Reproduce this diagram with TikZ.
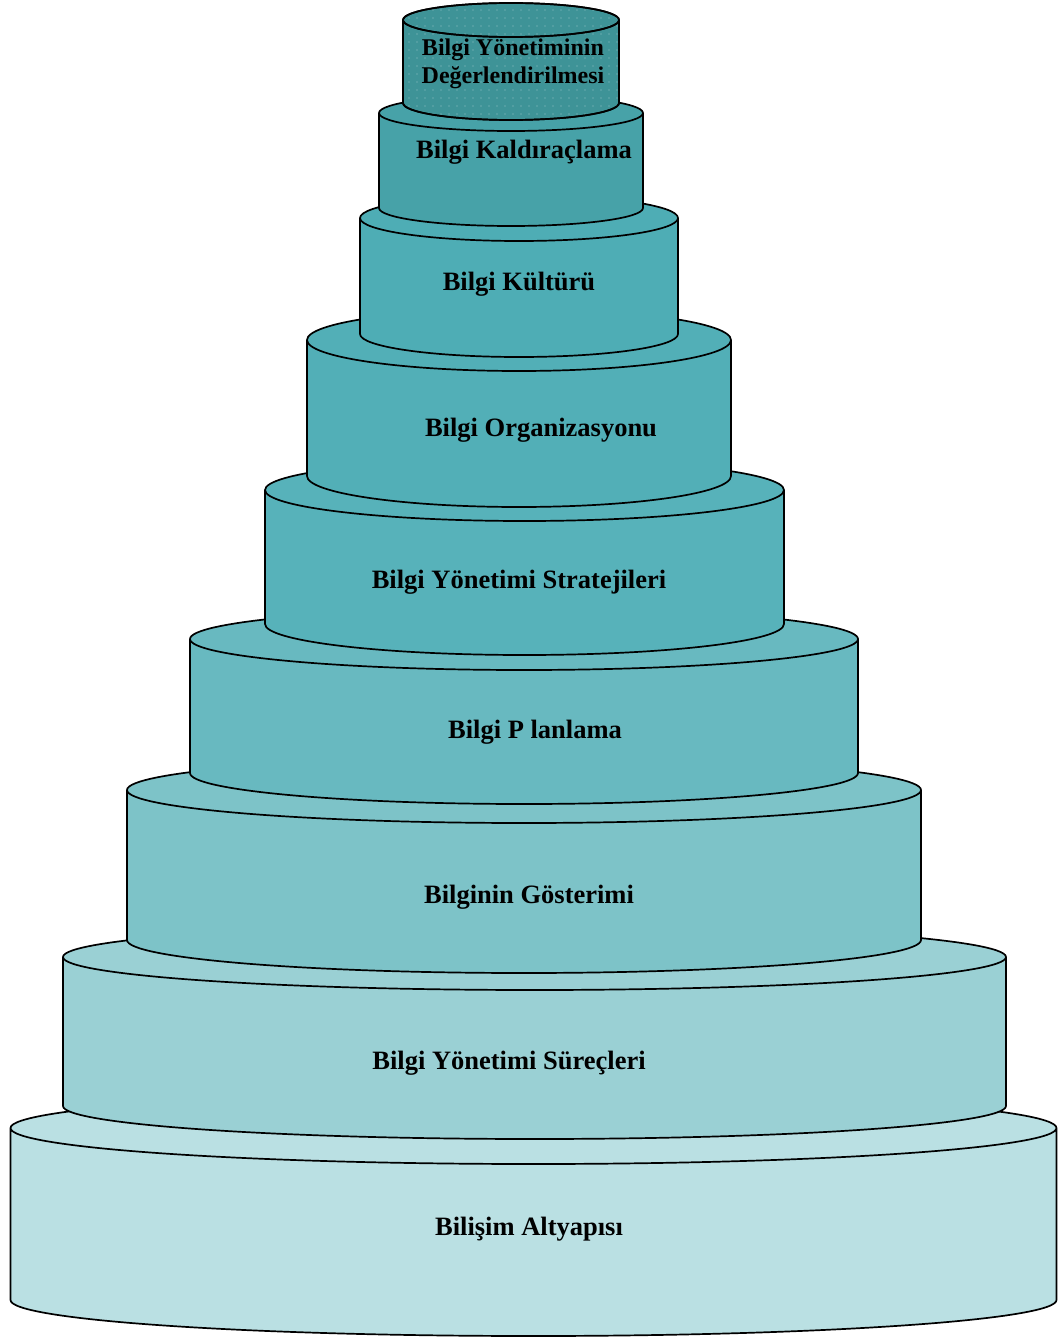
\documentclass[tikz,border=0pt]{standalone}
\usepackage{fontspec}
\setmainfont{Liberation Serif}
\definecolor{tierA}{HTML}{3E9397}
\definecolor{tierB}{HTML}{47A2A8}
\definecolor{tierC}{HTML}{4EADB5}
\definecolor{tierD}{HTML}{52AFB7}
\definecolor{tierE}{HTML}{57B2BA}
\definecolor{tierF}{HTML}{68B9C0}
\definecolor{tierG}{HTML}{7DC3C8}
\definecolor{tierH}{HTML}{9AD0D4}
\definecolor{tierI}{HTML}{BAE0E3}
% \tier{colour}{cx}{rx}{top y}{bottom y}{ry}  (y values measured downward)
\newcommand{\tier}[6]{%
  \fill[#1] (#2-#3,-#4) -- (#2-#3,-#5)
    arc[start angle=180,end angle=360,x radius=#3,y radius=#6]
    -- (#2+#3,-#4)
    arc[start angle=0,end angle=180,x radius=#3,y radius=#6] -- cycle;
  \draw[outline] (#2-#3,-#4) -- (#2-#3,-#5)
    arc[start angle=180,end angle=360,x radius=#3,y radius=#6]
    -- (#2+#3,-#4)
    arc[start angle=0,end angle=180,x radius=#3,y radius=#6]
    arc[start angle=180,end angle=360,x radius=#3,y radius=#6];
}
\begin{document}
\begin{tikzpicture}[x=1pt,y=1pt,
  outline/.style={draw=black,line width=1.7pt,line join=round},
  label/.style={font=\fontsize{26.5}{30}\selectfont\bfseries,align=center,inner sep=0pt}]
\useasboundingbox (0,0) rectangle (1057,-1337);
% tiers from the base upward
\tier{tierI}{533.5}{523}{1128}{1300}{36}
\tier{tierH}{534.5}{471.5}{957}{1106}{33}
\tier{tierG}{524}{397}{790}{940}{33}
\tier{tierF}{524}{334}{639}{773}{31}
\tier{tierE}{524.5}{259.5}{490}{624}{31}
\tier{tierD}{519}{212}{340}{476}{31}
\tier{tierC}{519}{159}{218}{334}{23}
\tier{tierB}{511}{132}{113}{208}{18}
\tier{tierA}{511}{108}{20}{103}{17}
% fine white dot texture on the top tier
\begin{scope}
  \clip (403,-20) -- (403,-103)
    arc[start angle=180,end angle=360,x radius=108,y radius=17]
    -- (619,-20) arc[start angle=0,end angle=180,x radius=108,y radius=17] -- cycle;
  \foreach \i in {0,...,28} {
    \foreach \j in {0,...,16} {
      \fill[white,opacity=0.45] (401+8*\i,-2-8*\j) circle (0.7);
    }
  }
\end{scope}
\draw[outline] (403,-20) -- (403,-103)
  arc[start angle=180,end angle=360,x radius=108,y radius=17]
  -- (619,-20)
  arc[start angle=0,end angle=180,x radius=108,y radius=17]
  arc[start angle=180,end angle=360,x radius=108,y radius=17];
% labels
\node[label,font=\fontsize{24}{28}\selectfont\bfseries] (tA) at (513,-64) {Bilgi Yönetiminin\\Değerlendirilmesi};
\node[label] (tB) at (524,-152) {Bilgi Kaldıraçlama};
\node[label] (tC) at (519,-284) {Bilgi Kültürü};
\node[label] (tD) at (541,-430) {Bilgi Organizasyonu};
\node[label] (tE) at (519,-582) {Bilgi Yönetimi Stratejileri};
\node[label] (tF) at (535,-732) {Bilgi P lanlama};
\node[label] (tG) at (529,-897) {Bilginin Gösterimi};
\node[label] (tH) at (509,-1063) {Bilgi Yönetimi Süreçleri};
\node[label] (tI) at (529,-1229) {Bilişim Altyapısı};
\end{tikzpicture}
\end{document}
